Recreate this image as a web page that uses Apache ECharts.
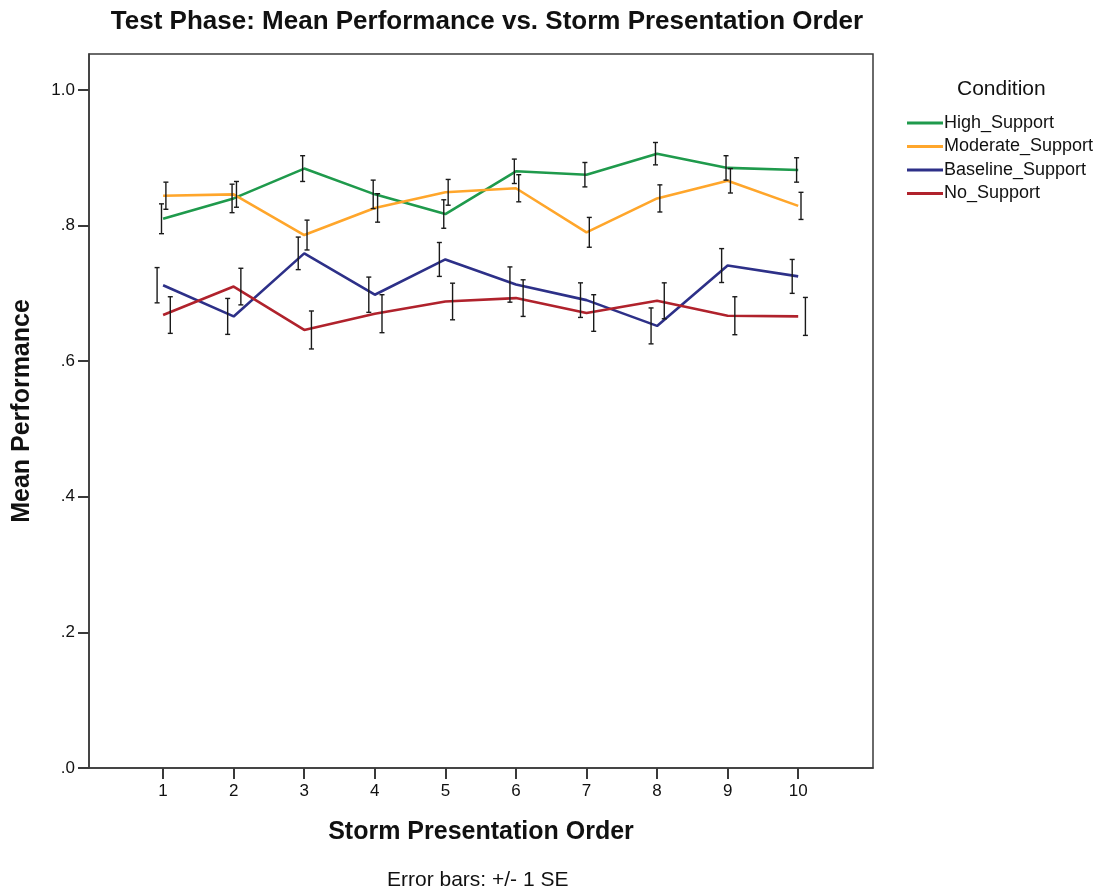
<!DOCTYPE html>
<html>
<head>
<meta charset="utf-8">
<script src="https://cdn.jsdelivr.net/npm/echarts@6/dist/echarts.min.js"></script>
<style>
  html, body { margin: 0; padding: 0; background: #fff; }
  #chart { width: 1115px; height: 896px; }
</style>
</head>
<body>
<div id="chart"></div>
<script>
// Storm presentation order (x positions)
const orders = [1, 2, 3, 4, 5, 6, 7, 8, 9, 10];

// Condition names
const conditions = ['High_Support', 'Moderate_Support', 'Baseline_Support', 'No_Support'];

// Mean performance per order
const highMean     = [0.810, 0.840, 0.884, 0.846, 0.817, 0.880, 0.875, 0.906, 0.885, 0.882];
const moderateMean = [0.844, 0.846, 0.786, 0.826, 0.849, 0.855, 0.790, 0.840, 0.866, 0.829];
const baselineMean = [0.712, 0.666, 0.759, 0.698, 0.750, 0.713, 0.690, 0.652, 0.741, 0.725];
const noMean       = [0.668, 0.710, 0.646, 0.670, 0.688, 0.693, 0.671, 0.689, 0.667, 0.666];

// Standard errors per order
const highSE     = [0.022, 0.021, 0.019, 0.021, 0.021, 0.018, 0.018, 0.0165, 0.018, 0.018];
const moderateSE = [0.020, 0.019, 0.022, 0.021, 0.019, 0.020, 0.022, 0.020, 0.018, 0.020];
const baselineSE = [0.026, 0.0265, 0.024, 0.026, 0.025, 0.026, 0.0255, 0.0265, 0.025, 0.025];
const noSE       = [0.027, 0.027, 0.028, 0.028, 0.027, 0.027, 0.027, 0.0265, 0.028, 0.028];

// Y tick labels
const yTicks = [0, 0.2, 0.4, 0.6, 0.8, 1.0];
const yTickLabels = ['.0', '.2', '.4', '.6', '.8', '1.0'];

const means = [highMean, moderateMean, baselineMean, noMean];
const ses = [highSE, moderateSE, baselineSE, noSE];
const colors = ['#1f9a4c', '#ffa62b', '#2d3088', '#b0222c'];
// small horizontal pixel dodge for each condition's error bars
const dodge = [-1.6, 2.8, -6.0, 7.2];

const FONT = '"Liberation Sans", Arial, sans-serif';

const lineSeries = conditions.map((name, i) => ({
  name: name,
  type: 'line',
  data: orders.map((x, k) => [x, means[i][k]]),
  showSymbol: false,
  symbol: 'none',
  lineStyle: { color: colors[i], width: 2.6 },
  itemStyle: { color: colors[i] },
  z: 2
}));

const errSeries = conditions.map((name, i) => ({
  name: name + '_se',
  type: 'custom',
  data: orders.map((x, k) => [x, means[i][k] - ses[i][k], means[i][k] + ses[i][k]]),
  renderItem: function (params, api) {
    const x = api.value(0);
    const lo = api.coord([x, api.value(1)]);
    const hi = api.coord([x, api.value(2)]);
    const px = lo[0] + dodge[i];
    const cap = 2.5;
    const style = { stroke: '#1a1a1a', lineWidth: 1.4 };
    return {
      type: 'group',
      children: [
        { type: 'line', shape: { x1: px, y1: lo[1], x2: px, y2: hi[1] }, style: style },
        { type: 'line', shape: { x1: px - cap, y1: lo[1], x2: px + cap, y2: lo[1] }, style: style },
        { type: 'line', shape: { x1: px - cap, y1: hi[1], x2: px + cap, y2: hi[1] }, style: style }
      ]
    };
  },
  z: 5,
  silent: true
}));

const chart = echarts.init(document.getElementById('chart'), null, { renderer: 'canvas' });

chart.setOption({
  animation: false,
  backgroundColor: '#ffffff',
  title: {
    text: 'Test Phase: Mean Performance vs. Storm Presentation Order',
    left: 482,
    textAlign: 'center',
    top: 4,
    textStyle: { fontFamily: FONT, fontWeight: 'bold', fontSize: 26, color: '#111' }
  },
  legend: {
    data: conditions,
    orient: 'vertical',
    left: 902,
    top: 109,
    icon: 'rect',
    itemWidth: 36,
    itemHeight: 3,
    itemGap: 5.5,
    textStyle: { fontFamily: FONT, fontSize: 18, color: '#111', lineHeight: 17, padding: [0, 0, 0, -4] },
    selectedMode: false
  },
  grid: {
    left: 89,
    top: 54,
    right: 242,
    bottom: 128,
    show: true,
    borderColor: '#3a3a3a',
    borderWidth: 1.5,
    containLabel: false,
    outerBoundsMode: 'none'
  },
  xAxis: {
    type: 'value',
    min: -0.05,
    max: 11.06,
    name: 'Storm Presentation Order',
    nameLocation: 'middle',
    nameGap: 52,
    nameTextStyle: { fontFamily: FONT, fontWeight: 'bold', fontSize: 25, color: '#111' },
    axisLine: { show: true, onZero: false, lineStyle: { color: '#3a3a3a', width: 1.5 } },
    axisTick: { show: true, length: 11, lineStyle: { color: '#3a3a3a', width: 2 }, customValues: orders },
    axisLabel: { fontFamily: FONT, fontSize: 17, color: '#111', margin: 15, customValues: orders },
    splitLine: { show: false }
  },
  yAxis: {
    type: 'value',
    min: 0,
    max: 1.053,
    name: 'Mean Performance',
    nameLocation: 'middle',
    nameGap: 54,
    nameTextStyle: { fontFamily: FONT, fontWeight: 'bold', fontSize: 25, color: '#111' },
    axisLine: { show: true, onZero: false, lineStyle: { color: '#3a3a3a', width: 1.5 } },
    axisTick: { show: true, length: 11, lineStyle: { color: '#3a3a3a', width: 2 }, customValues: yTicks },
    axisLabel: {
      fontFamily: FONT, fontSize: 17, color: '#111', margin: 14,
      customValues: yTicks,
      formatter: function (v) {
        const idx = yTicks.findIndex(t => Math.abs(t - v) < 1e-6);
        return idx >= 0 ? yTickLabels[idx] : '';
      }
    },
    splitLine: { show: false }
  },
  graphic: [
    {
      type: 'text',
      left: 957,
      top: 79,
      style: { text: 'Condition', fontFamily: FONT, fontSize: 21, fill: '#111' }
    },
    {
      type: 'text',
      left: 387,
      top: 870,
      style: { text: 'Error bars: +/- 1 SE', fontFamily: FONT, fontSize: 21, fill: '#111' }
    }
  ],
  series: lineSeries.concat(errSeries)
});
</script>
</body>
</html>
